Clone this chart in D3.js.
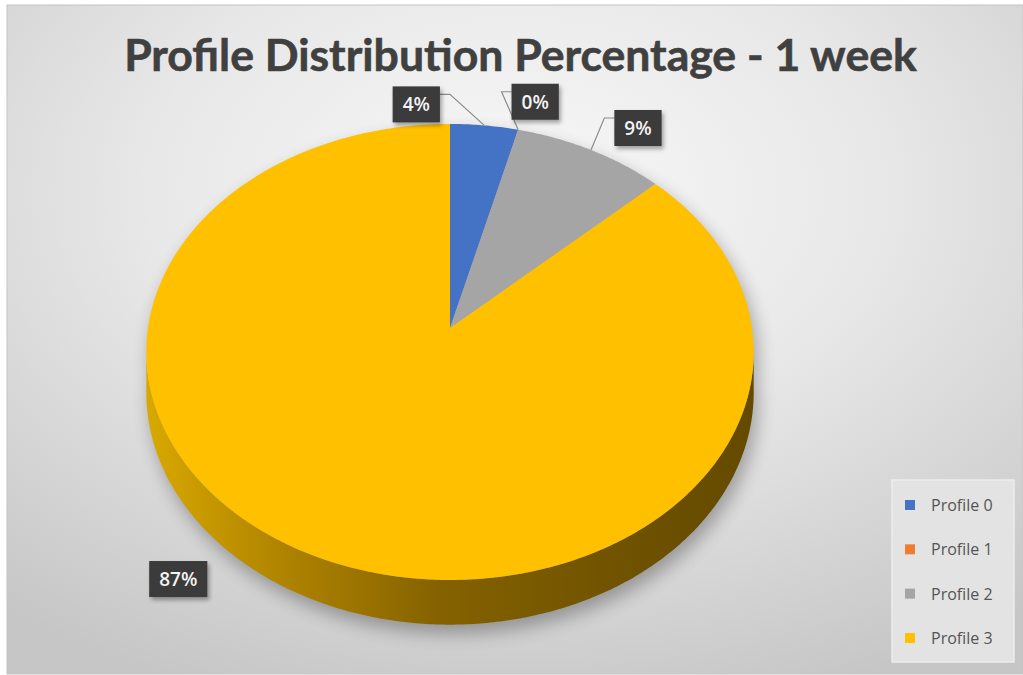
<!DOCTYPE html>
<html>
<head>
<meta charset="utf-8">
<script src="https://cdn.jsdelivr.net/npm/d3@7"></script>
<style>
  html, body { margin: 0; padding: 0; background: #ffffff; }
  svg { display: block; }
</style>
</head>
<body>
<svg id="chart" width="1023" height="675"></svg>
<script>
// ---- data ----
const titleText = "Profile Distribution Percentage - 1 week";
const categories = ["Profile 0", "Profile 1", "Profile 2", "Profile 3"];
const shares = [4, 0, 9, 87];               // percent of profiles
const shareLabels = ["4%", "0%", "9%", "87%"];
const seriesColors = ["#4472C4", "#ED7D31", "#A5A5A5", "#FFC000"];

// ---- layout ----
const W = 1023, H = 675;
const disc = { cx: 450, cy: 328, rx: 302, ry: 225.5, k: 0.105, depth: 40 };
// label box offsets from the rim anchor of each slice
const labelOffsets = [[-68, -21], [17, -28], [47, -22], [-139, 22]];
const leaderOn = [true, true, true, false];

const svg = d3.select("#chart");
const defs = svg.append("defs");

// chart area background
const bg = defs.append("radialGradient").attr("id", "bgGrad")
  .attr("cx", "50%").attr("cy", "28%").attr("r", "80%");
bg.append("stop").attr("offset", "0%").attr("stop-color", "#f8f8f8");
bg.append("stop").attr("offset", "45%").attr("stop-color", "#e8e8e8");
bg.append("stop").attr("offset", "100%").attr("stop-color", "#c6c6c6");

// wall shading for the rim of the disc
const wallGrad = defs.append("linearGradient").attr("id", "wallGrad")
  .attr("gradientUnits", "userSpaceOnUse")
  .attr("x1", disc.cx - disc.rx).attr("x2", disc.cx + disc.rx)
  .attr("y1", 0).attr("y2", 0);
[["0%", "#d8a800"], ["22%", "#b08400"], ["48%", "#856200"], ["75%", "#725400"], ["100%", "#644a00"]]
  .forEach(([o, c]) => wallGrad.append("stop").attr("offset", o).attr("stop-color", c));

const blur = defs.append("filter").attr("id", "softShadow")
  .attr("x", "-20%").attr("y", "-20%").attr("width", "140%").attr("height", "140%");
blur.append("feGaussianBlur").attr("stdDeviation", 9);

const boxShadow = defs.append("filter").attr("id", "boxShadow")
  .attr("x", "-30%").attr("y", "-30%").attr("width", "160%").attr("height", "160%");
boxShadow.append("feDropShadow").attr("dx", 2).attr("dy", 3)
  .attr("stdDeviation", 2).attr("flood-color", "#000").attr("flood-opacity", 0.35);

svg.append("rect")
  .attr("x", 7).attr("y", 5).attr("width", W - 7).attr("height", 669)
  .attr("fill", "url(#bgGrad)")
  .attr("stroke", "#c4c4c4").attr("stroke-width", 1);

// ---- perspective projection of the tilted disc ----
function project(phi, drop) {
  const u = Math.cos(phi);              // +1 = far edge, -1 = near edge
  const den = 1 + disc.k * u;
  return [disc.cx + disc.rx * Math.sin(phi) / den,
          disc.cy + (-disc.ry * u + drop) / den];
}
function arcPoints(a0, a1, drop) {
  const n = Math.max(2, Math.ceil(Math.abs(a1 - a0) / 0.01));
  return d3.range(n + 1).map(i => project(a0 + (a1 - a0) * i / n, drop));
}
const line = d3.line().curve(d3.curveLinearClosed);
const color = d3.scaleOrdinal().domain(categories).range(seriesColors);

const pie = d3.pie().sort(null).value(d => d.value);
const arcs = pie(categories.map((c, i) => ({ name: c, value: shares[i], label: shareLabels[i] })));

// drop shadow beneath the disc
const full = 2 * Math.PI;
const g = svg.append("g");
g.append("path")
  .attr("d", line(arcPoints(0, full, 0)) + line(arcPoints(0, full, disc.depth)))
  .attr("transform", "translate(4,9)")
  .attr("fill", "#000").attr("opacity", 0.3)
  .attr("filter", "url(#softShadow)");

// visible front wall: between the two silhouette angles
const visA = Math.acos(-disc.k), visB = full - visA;
arcs.forEach(a => {
  const s = Math.max(a.startAngle, visA), e = Math.min(a.endAngle, visB);
  if (e <= s) return;
  const top = arcPoints(s, e, 0);
  const bot = arcPoints(s, e, disc.depth).reverse();
  g.append("path")
    .attr("d", line(top.concat(bot)))
    .attr("fill", a.data.name === "Profile 3" ? "url(#wallGrad)" : d3.color(color(a.data.name)).darker(1.2));
});

// top faces
arcs.forEach(a => {
  if (a.endAngle - a.startAngle <= 0) return;
  g.append("path")
    .attr("d", line([[disc.cx, disc.cy]].concat(arcPoints(a.startAngle, a.endAngle, 0))))
    .attr("fill", color(a.data.name));
});

// ---- data labels ----
const lg = svg.append("g");
arcs.forEach((a, i) => {
  const mid = (a.startAngle + a.endAngle) / 2;
  const anchor = project(mid, 0);
  const bx = anchor[0] + labelOffsets[i][0];
  const by = anchor[1] + labelOffsets[i][1];
  const t = lg.append("text")
    .attr("x", bx).attr("y", by + 7)
    .attr("text-anchor", "middle")
    .attr("font-family", "'Open Sans', sans-serif")
    .attr("font-weight", 600).attr("font-size", 19)
    .attr("fill", "#f4f4f4")
    .text(a.data.label);
  const tw = t.node().getComputedTextLength();
  const bw = tw + 20, bh = 36;
  const x0 = bx - bw / 2, y0 = by - bh / 2;
  if (leaderOn[i]) {
    const leftSide = anchor[0] < bx;
    const edgeX = leftSide ? x0 : x0 + bw;
    const elbowX = leftSide ? edgeX - 10 : edgeX + 10;
    const ly = y0 + 8;
    lg.insert("path", "text")
      .attr("d", d3.line()([[edgeX, ly], [elbowX, ly], anchor]))
      .attr("fill", "none").attr("stroke", "#8c8c8c").attr("stroke-width", 1.2);
  }
  lg.insert("rect", "text")
    .attr("x", x0).attr("y", y0).attr("width", bw).attr("height", bh)
    .attr("fill", "#3b3b3b")
    .attr("filter", "url(#boxShadow)");
});

// ---- title ----
const title = svg.append("text")
  .attr("x", 520.5).attr("y", 71)
  .attr("text-anchor", "middle")
  .attr("font-family", "Lato, 'Open Sans', sans-serif")
  .attr("font-weight", 700).attr("font-size", 40)
  .attr("fill", "#404040")
  .attr("stroke", "#404040").attr("stroke-width", 0.6)
  .text(titleText);
const tLen = title.node().getComputedTextLength();
title.attr("font-size", 40 * 793 / tLen);

// ---- legend ----
const legend = svg.append("g");
legend.append("rect")
  .attr("x", 892).attr("y", 480).attr("width", 122).attr("height", 182)
  .attr("fill", "#e3e3e3").attr("stroke", "#ededed").attr("stroke-width", 1.5);
const rowY = d3.scalePoint().domain(categories).range([505, 638]);
const items = legend.selectAll("g.item").data(categories).join("g")
  .attr("class", "item")
  .attr("transform", d => `translate(905,${rowY(d)})`);
items.append("rect")
  .attr("x", 0).attr("y", -5).attr("width", 10).attr("height", 10)
  .attr("fill", d => color(d));
items.append("text")
  .attr("x", 26).attr("y", 6)
  .attr("font-family", "'Open Sans', sans-serif")
  .attr("font-size", 16)
  .attr("fill", "#555555")
  .text(d => d);
</script>
</body>
</html>
